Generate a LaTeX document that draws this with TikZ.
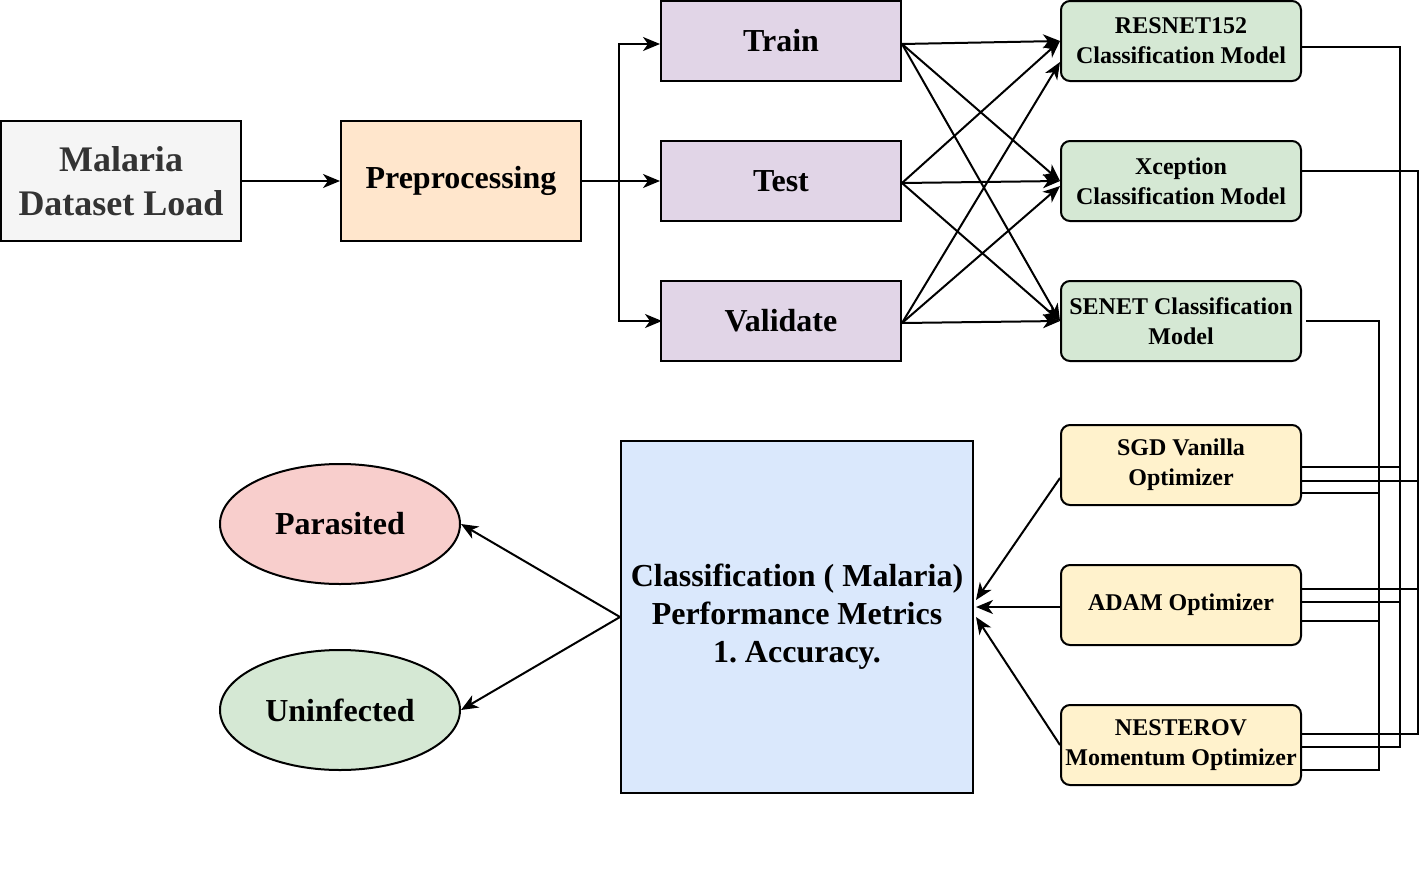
\documentclass[tikz,border=0pt]{standalone}
\usepackage{fontspec}
\setmainfont{Liberation Serif}
\usetikzlibrary{arrows.meta,shapes.geometric}
\definecolor{greyfill}{HTML}{F5F5F5}
\definecolor{greytext}{HTML}{333333}
\definecolor{orangefill}{HTML}{FFE6CC}
\definecolor{purplefill}{HTML}{E1D5E7}
\definecolor{greenfill}{HTML}{D5E8D4}
\definecolor{yellowfill}{HTML}{FFF2CC}
\definecolor{bluefill}{HTML}{DAE8FC}
\definecolor{pinkfill}{HTML}{F8CECC}
\tikzset{
	box/.style={draw=black, line width=2pt, inner sep=0pt, align=center, font=\bfseries},
	bigbox/.style={box, minimum width=240pt, minimum height=120pt},
	splitbox/.style={box, fill=purplefill, minimum width=240pt, minimum height=80pt, font=\fontsize{32}{38}\selectfont\bfseries},
	modelbox/.style={box, rounded corners=9pt, minimum width=240pt, minimum height=80pt, font=\fontsize{24}{30}\selectfont\bfseries},
	classnode/.style={box, ellipse, minimum width=240pt, minimum height=120pt, font=\fontsize{32}{38}\selectfont\bfseries},
	arr/.style={line width=2pt, -{Stealth[length=17pt,width=14pt,inset=5pt]}},
	wire/.style={line width=2pt}
}
\begin{document}
\begin{tikzpicture}[x=1pt, y=-1pt]
		\useasboundingbox (0,0) rectangle (1422,886);
		\node[bigbox, fill=greyfill, text=greytext, font=\fontsize{36}{44}\selectfont\bfseries] (load) at (121,181) {Malaria\\Dataset Load};
		\node[bigbox, fill=orangefill, font=\fontsize{32}{38}\selectfont\bfseries] (prep) at (461,181) {\raisebox{-2pt}{Preprocessing}};
		\node[splitbox] (train) at (781,41) {Train};
		\node[splitbox] (test) at (781,181) {Test};
		\node[splitbox] (valid) at (781,321) {Validate};
		\node[modelbox, fill=greenfill] (resnet) at (1181,41) {RESNET152\\Classification Model};
		\node[modelbox, fill=greenfill] (xcep) at (1181,181) {Xception\\Classification Model};
		\node[modelbox, fill=greenfill] (senet) at (1181,321) {SENET Classification\\Model};
		\node[modelbox, fill=yellowfill] (sgd) at (1181,465) {SGD Vanilla\\Optimizer};
		\node[modelbox, fill=yellowfill] (adam) at (1181,605) {ADAM Optimizer};
		\node[modelbox, fill=yellowfill] (nest) at (1181,745) {NESTEROV\\Momentum Optimizer};
		\node[box, fill=bluefill, minimum width=352pt, minimum height=352pt, font=\fontsize{32}{38}\selectfont\bfseries] (metrics) at (797,617) {Classification ( Malaria)\\Performance Metrics\\1.\ Accuracy.};
		\node[classnode, fill=pinkfill] (para) at (340,524) {Parasited};
		\node[classnode, fill=greenfill] (uninf) at (340,710) {Uninfected};

		\draw[arr] (load) -- (prep.west |- load);
		\coordinate (split) at (619,181);
		\draw[arr] (prep.east |- split) -- (test.west |- split);
		\draw[arr] (split) |- ([yshift=-3pt]train.west);
		\draw[arr] (split) |- ([xshift=2pt]valid.west);

		% every split feeds every model
		\draw[arr] ([yshift=-3pt]train.east) -- (resnet.west);
		\draw[arr] ([yshift=-3pt]train.east) -- (xcep.west);
		\draw[arr] ([yshift=-3pt]train.east) -- (senet.west);
		\draw[arr] ([yshift=-2pt]test.east) -- (resnet.west);
		\draw[arr] ([yshift=-2pt]test.east) -- (xcep.west);
		\draw[arr] ([yshift=-2pt]test.east) -- (senet.west);
		\draw[arr] ([yshift=-2pt]valid.east) -- ([yshift=-21pt]resnet.west);
		\draw[arr] ([yshift=-2pt]valid.east) -- ([yshift=-5pt]xcep.west);
		\draw[arr] ([yshift=-2pt]valid.east) -- (senet.west);

		% models to optimizers
		\coordinate (ba1) at (1400,467);
		\coordinate (ba2) at (1400,602);
		\coordinate (ba3) at (1400,747);
		\coordinate (bb1) at (1418,481);
		\coordinate (bb2) at (1418,589);
		\coordinate (bb3) at (1418,734);
		\coordinate (bc1) at (1379,493);
		\coordinate (bc2) at (1379,621);
		\coordinate (bc3) at (1379,770);
		\draw[wire] ([yshift=-6pt]resnet.east) -| (ba3) -- (ba3 -| nest.east);
		\draw[wire] (ba1) -- (ba1 -| sgd.east);
		\draw[wire] (ba2) -- (ba2 -| adam.east);
		\draw[wire] ([yshift=10pt]xcep.east) -| (bb3) -- (bb3 -| nest.east);
		\draw[wire] (bb1) -- (bb1 -| sgd.east);
		\draw[wire] (bb2) -- (bb2 -| adam.east);
		\draw[wire] ([xshift=4pt]senet.east) -| (bc3) -- (bc3 -| nest.east);
		\draw[wire] (bc1) -- (bc1 -| sgd.east);
		\draw[wire] (bc2) -- (bc2 -| adam.east);

		\draw[arr] ([yshift=-13pt]sgd.west) -- ([xshift=2pt,yshift=17pt]metrics.east);
		\draw[arr] ([yshift=-2pt]adam.west) -- ([xshift=2pt,yshift=10pt]metrics.east);
		\draw[arr] (nest.west) -- ([xshift=2pt]metrics.east);
		\draw[arr] (metrics.west) -- (para.east);
		\draw[arr] (metrics.west) -- (uninf.east);
\end{tikzpicture}
\end{document}
